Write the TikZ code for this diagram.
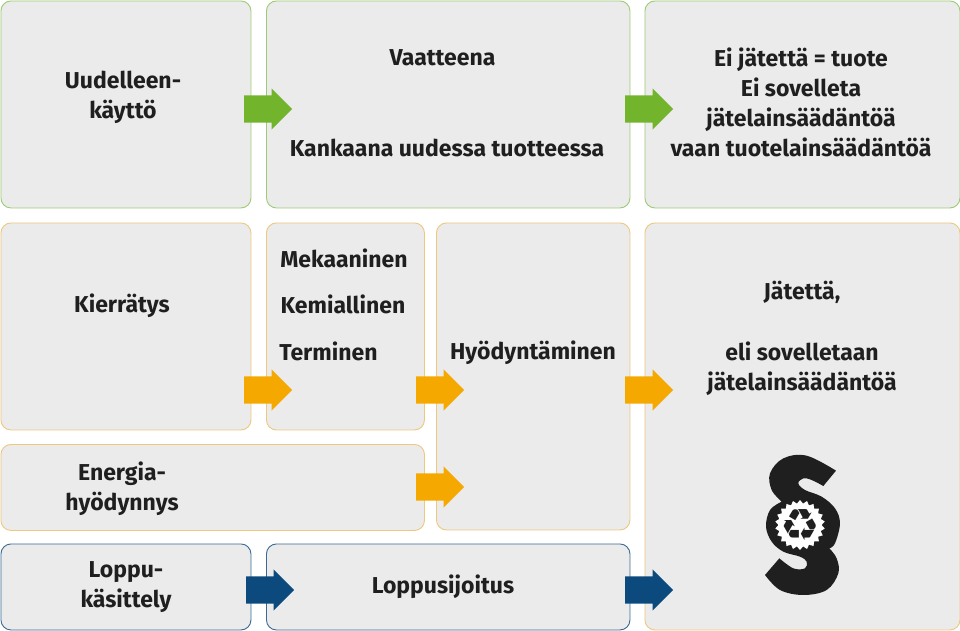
\documentclass[tikz,border=0pt]{standalone}
\usepackage{fontspec}
\setmainfont{Fira Sans}
\newfontfamily\symfont{DejaVu Sans}
\usetikzlibrary{shapes.arrows,shapes.geometric}
\definecolor{boxfill}{HTML}{EBEBEB}
\definecolor{gline}{HTML}{9CCB74}
\definecolor{oline}{HTML}{EDC87E}
\definecolor{bline}{HTML}{3A6A94}
\definecolor{garrow}{HTML}{72B42C}
\definecolor{oarrow}{HTML}{F5A800}
\definecolor{barrow}{HTML}{0C4A7E}
\definecolor{ink}{HTML}{1F1F1F}
\tikzset{
  panel/.style={draw,fill=boxfill,rounded corners=10pt,line width=0.9pt,anchor=north west,inner sep=0pt},
  lbl/.style={font=\fontsize{23}{30}\selectfont\bfseries,text=ink,align=center,inner sep=0pt,anchor=center},
  blockarrow/.style={single arrow,single arrow head extend=7pt,single arrow head indent=0pt,
    text height=27pt,text depth=0pt,text width=0pt,
    minimum width=41pt,minimum height=48pt,inner sep=0pt,anchor=west,draw=none,fill=#1}
}
\begin{document}
\begin{tikzpicture}[x=1pt,y=-1pt]
\useasboundingbox[fill=white] (0,0) rectangle (960,630);
% panels
\node[panel,draw=gline,minimum width=250pt,minimum height=207pt] (reuse) at (0.5,0.5) {};
\node[panel,draw=gline,minimum width=363.5pt,minimum height=207pt] (cloth) at (266,0.5) {};
\node[panel,draw=gline,minimum width=315pt,minimum height=207pt] (prod) at (644.5,0.5) {};
\node[panel,draw=oline,minimum width=250pt,minimum height=207pt] (recy) at (0.5,222.5) {};
\node[panel,draw=oline,minimum width=158pt,minimum height=207pt] (meth) at (266,222.5) {};
\node[panel,draw=oline,minimum width=193.5pt,minimum height=307pt] (util) at (436,222.5) {};
\node[panel,draw=oline,minimum width=315pt,minimum height=407pt] (waste) at (644.5,222.5) {};
\node[panel,draw=oline,minimum width=423.5pt,minimum height=86pt] (ener) at (0.5,444) {};
\node[panel,draw=bline,minimum width=250pt,minimum height=86pt] (endt) at (0.5,543.5) {};
\node[panel,draw=bline,minimum width=363.5pt,minimum height=86pt] (disp) at (266,543.5) {};
% labels
\node[lbl] (t1) at (123,97.5) {Uudelleen-\\käyttö};
\node[lbl] (t2) at (442.5,57.5) {Vaatteena};
\node[lbl] (t3) at (447,148) {Kankaana uudessa tuotteessa};
\node[lbl] (t4) at (801,102.5) {Ei jätettä = tuote\\Ei sovelleta\\jätelainsäädäntöä\\vaan tuotelainsäädäntöä};
\node[lbl] (t5) at (122,306) {Kierrätys};
\node[lbl] (t6) at (344,258) {Mekaaninen};
\node[lbl] (t7) at (343,304.5) {Kemiallinen};
\node[lbl] (t8) at (328.5,351.5) {Terminen};
\node[lbl] (t9) at (533,353) {Hyödyntäminen};
\node[lbl] (t10) at (802,292) {Jätettä,};
\node[lbl] (t11) at (802,368.5) {eli sovelletaan\\jätelainsäädäntöä};
\node[lbl] (t12) at (122,488.5) {Energia-\\hyödynnys};
\node[lbl] (t13) at (126,587.5) {Loppu-\\käsittely};
\node[lbl] (t14) at (443,587) {Loppusijoitus};
% arrows
\node[blockarrow=garrow] (a1) at (244,109) {};
\node[blockarrow=garrow] (a2) at (625,109) {};
\node[blockarrow=oarrow] (a3) at (244,390) {};
\node[blockarrow=oarrow] (a4) at (416,390) {};
\node[blockarrow=oarrow] (a5) at (625,390) {};
\node[blockarrow=oarrow] (a6) at (416,487) {};
\node[blockarrow=barrow] (a7) at (246,590) {};
\node[blockarrow=barrow] (a8) at (625,590) {};
% section sign outline
\begin{scope}[shift={(740,440)},x=0.3333pt,y=-0.3333pt]
\fill[ink] (288,92) -- (250,138)
  -- plot[smooth,tension=0.6] coordinates {(250,138) (215,120) (190,115) (175,130) (195,150) (245,170) (285,205) (300,250) (285,310) (268,325)}
  -- plot[smooth,tension=0.6] coordinates {(268,325) (290,355) (295,400) (260,450) (190,465) (120,450) (75,405)}
  -- (118,355)
  -- plot[smooth,tension=0.6] coordinates {(118,355) (160,385) (195,385) (200,365) (180,350) (130,335) (95,305) (78,260) (90,210) (125,185)}
  -- plot[smooth,tension=0.6] coordinates {(125,185) (95,150) (90,100) (130,55) (200,47) (288,92)}
  -- cycle;
\end{scope}
\node[star,star points=22,star point ratio=1.16,fill=white,draw=none,minimum size=50pt,inner sep=0pt] (gear) at (800,525) {};
\node[circle,fill=white,minimum size=43pt,inner sep=0pt] (hub) at (800,525) {};
\node[font=\symfont\fontsize{44}{44}\selectfont,text=ink,inner sep=0pt] (rec) at (800,525) {♻};
\end{tikzpicture}
\end{document}
